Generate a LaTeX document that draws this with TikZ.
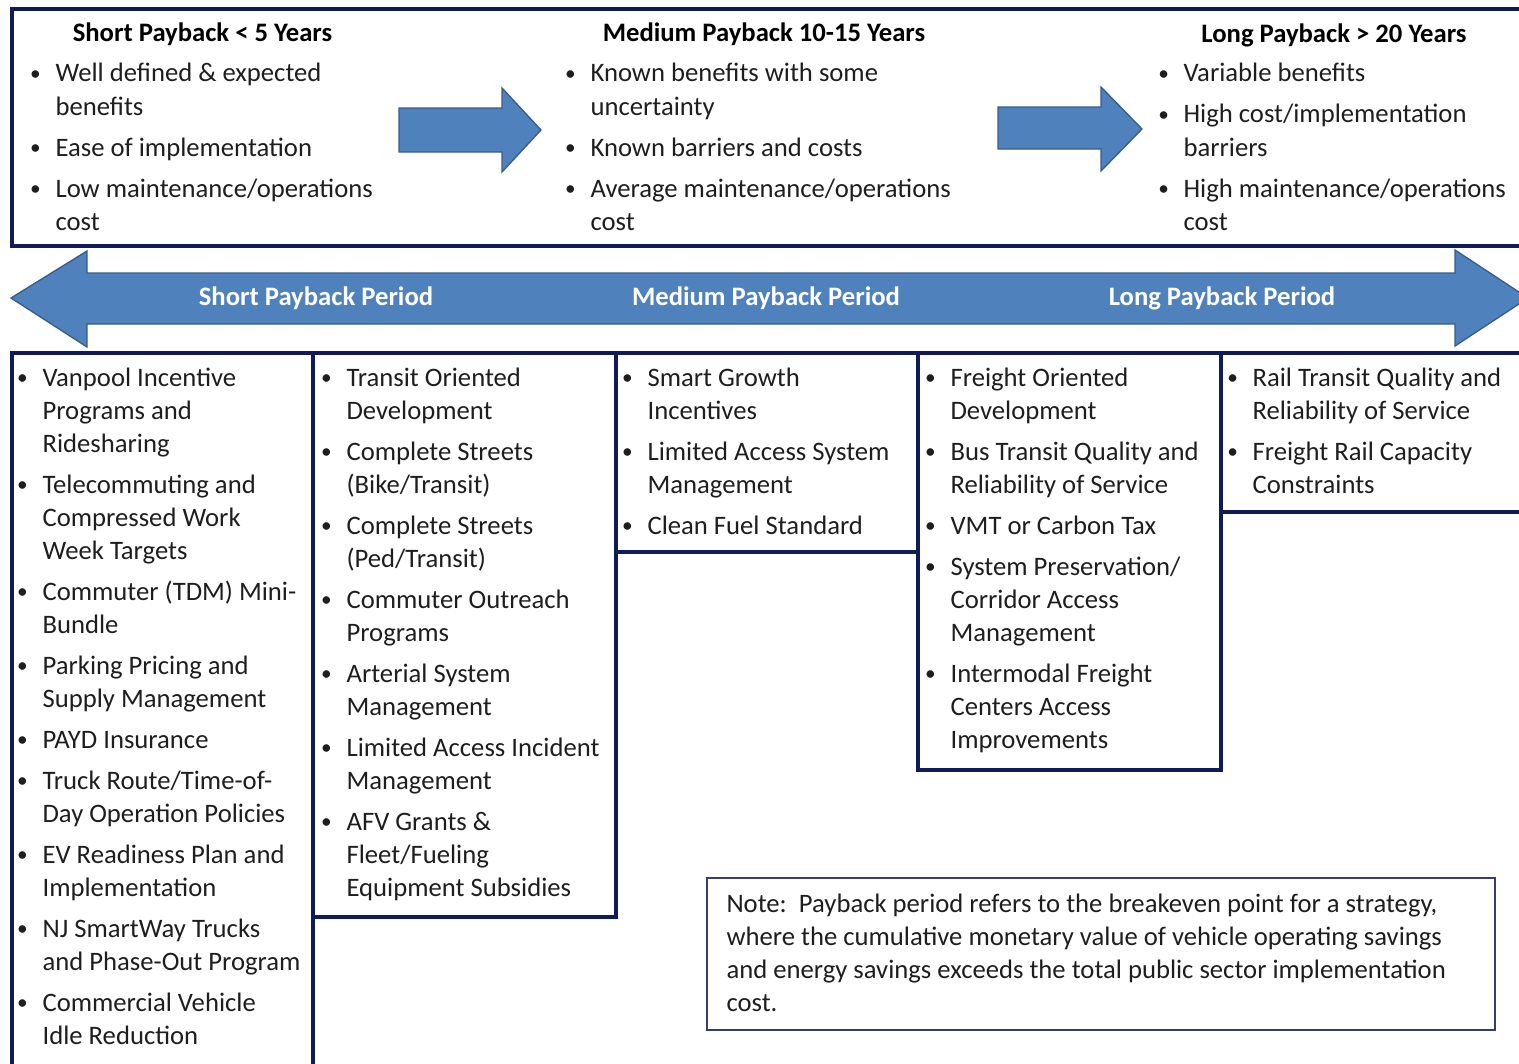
\documentclass[tikz,border=0pt]{standalone}
\usepackage{fontspec}
\setmainfont{Carlito}
\definecolor{framenavy}{RGB}{16,28,88}
\definecolor{arrowblue}{RGB}{79,129,189}
\definecolor{arrowedge}{RGB}{56,93,138}
\definecolor{textgray}{RGB}{30,30,30}
\newcommand{\pbullet}{\makebox[20pt][l]{\hspace{1pt}\raisebox{0.07em}{\scalebox{0.8}{\textbullet}}}}
\tikzset{every picture/.style={line width=0.75pt},
  frame/.style={draw=framenavy, line width=2.6pt},
  notebox/.style={draw=framenavy!85, line width=1.4pt},
  blockarrow/.style={fill=arrowblue, draw=arrowedge, line width=1pt},
  listtext/.style={anchor=base west, inner sep=0pt, text=textgray, font=\fontsize{20}{24.75}\selectfont},
  headtext/.style={anchor=base, inner sep=0pt, text=black, font=\fontsize{20}{24.75}\selectfont\bfseries},
  bandtext/.style={anchor=base, inner sep=0pt, text=white, font=\fontsize{20}{24.75}\selectfont\bfseries}}

\begin{document}
\begin{tikzpicture}[x=0.75pt,y=0.75pt,yscale=-1,xscale=1]
\clip (0,0) rectangle (1519,1063);

% Frames
\draw [frame] (12,9) rectangle (1535,246) ;
\draw [frame] (12,353) rectangle (313,1080) ;
\draw [frame] (313,353) rectangle (616,917) ;
\draw [frame] (616,353) rectangle (918,552) ;
\draw [frame] (918,353) rectangle (1221,770) ;
\draw [frame] (1221,353) rectangle (1535,512) ;
\draw [notebox] (707,878) rectangle (1495,1030) ;

% Block arrows
\draw [blockarrow] (399,108) -- (502,108) -- (502,88) -- (541,130) -- (502,172) -- (502,152) -- (399,152) -- cycle ;
\draw [blockarrow] (998,107) -- (1101,107) -- (1101,87) -- (1142,129) -- (1101,171) -- (1101,149) -- (998,149) -- cycle ;
\draw [blockarrow] (11,298) -- (87,251) -- (87,273) -- (1455,273) -- (1455,250) -- (1528,298) -- (1455,346) -- (1455,324) -- (87,324) -- (87,347) -- cycle ;

% Text Node
\node [headtext] (shorthead) at (202.5,42) {Short Payback < 5 Years};
\node [headtext] (mediumhead) at (764,42) {Medium Payback 10-15 Years};
\node [headtext] (longhead) at (1334,43) {Long Payback > 20 Years};
% Text Node
\node [listtext] (shortlist) at (28.4,82) {\begin{tabular}[t]{@{}l@{}l@{}}
\pbullet & Well defined \& expected\\
 & benefits\\[6pt]
\pbullet & Ease of implementation\\[6pt]
\pbullet & Low maintenance/operations\\
 & cost
\end{tabular}};
\node [listtext] (mediumlist) at (563.4,82) {\begin{tabular}[t]{@{}l@{}l@{}}
\pbullet & Known benefits with some\\
 & uncertainty\\[6pt]
\pbullet & Known barriers and costs\\[6pt]
\pbullet & Average maintenance/operations\\
 & cost
\end{tabular}};
\node [listtext] (longlist) at (1156.4,82) {\begin{tabular}[t]{@{}l@{}l@{}}
\pbullet & Variable benefits\\[6pt]
\pbullet & High cost/implementation\\
 & barriers\\[6pt]
\pbullet & High maintenance/operations\\
 & cost
\end{tabular}};

% Text Node
\node [bandtext] (shortband) at (316,305) {Short Payback Period};
\node [bandtext] (mediumband) at (766,305) {Medium Payback Period};
\node [bandtext] (longband) at (1222,305) {Long Payback Period};

% Text Node
\node [listtext] (colone) at (15.4,386) {\begin{tabular}[t]{@{}l@{}l@{}}
\pbullet & Vanpool Incentive\\
 & Programs and\\
 & Ridesharing\\[6pt]
\pbullet & Telecommuting and\\
 & Compressed Work\\
 & Week Targets\\[6pt]
\pbullet & Commuter (TDM) Mini-\\
 & Bundle\\[6pt]
\pbullet & Parking Pricing and\\
 & Supply Management\\[6pt]
\pbullet & PAYD Insurance\\[6pt]
\pbullet & Truck Route/Time-of-\\
 & Day Operation Policies\\[6pt]
\pbullet & EV Readiness Plan and\\
 & Implementation\\[6pt]
\pbullet & NJ SmartWay Trucks\\
 & and Phase-Out Program\\[6pt]
\pbullet & Commercial Vehicle\\
 & Idle Reduction
\end{tabular}};
% Text Node
\node [listtext] (coltwo) at (319.4,386) {\begin{tabular}[t]{@{}l@{}l@{}}
\pbullet & Transit Oriented\\
 & Development\\[6pt]
\pbullet & Complete Streets\\
 & (Bike/Transit)\\[6pt]
\pbullet & Complete Streets\\
 & (Ped/Transit)\\[6pt]
\pbullet & Commuter Outreach\\
 & Programs\\[6pt]
\pbullet & Arterial System\\
 & Management\\[6pt]
\pbullet & Limited Access Incident\\
 & Management\\[6pt]
\pbullet & AFV Grants \&\\
 & Fleet/Fueling\\
 & Equipment Subsidies
\end{tabular}};
% Text Node
\node [listtext] (colthree) at (620.4,386) {\begin{tabular}[t]{@{}l@{}l@{}}
\pbullet & Smart Growth\\
 & Incentives\\[6pt]
\pbullet & Limited Access System\\
 & Management\\[6pt]
\pbullet & Clean Fuel Standard
\end{tabular}};
% Text Node
\node [listtext] (colfour) at (923.4,386) {\begin{tabular}[t]{@{}l@{}l@{}}
\pbullet & Freight Oriented\\
 & Development\\[6pt]
\pbullet & Bus Transit Quality and\\
 & Reliability of Service\\[6pt]
\pbullet & VMT or Carbon Tax\\[6pt]
\pbullet & System Preservation/\\
 & Corridor Access\\
 & Management\\[6pt]
\pbullet & Intermodal Freight\\
 & Centers Access\\
 & Improvements
\end{tabular}};
% Text Node
\node [listtext] (colfive) at (1225.4,386) {\begin{tabular}[t]{@{}l@{}l@{}}
\pbullet & Rail Transit Quality and\\
 & Reliability of Service\\[6pt]
\pbullet & Freight Rail Capacity\\
 & Constraints
\end{tabular}};

% Text Node
\node [listtext] (notetext) at (726,912) {\begin{tabular}[t]{@{}l@{}}
Note:\ \ Payback period refers to the breakeven point for a strategy,\\
where the cumulative monetary value of vehicle operating savings\\
and energy savings exceeds the total public sector implementation\\
cost.
\end{tabular}};

\end{tikzpicture}
\end{document}
